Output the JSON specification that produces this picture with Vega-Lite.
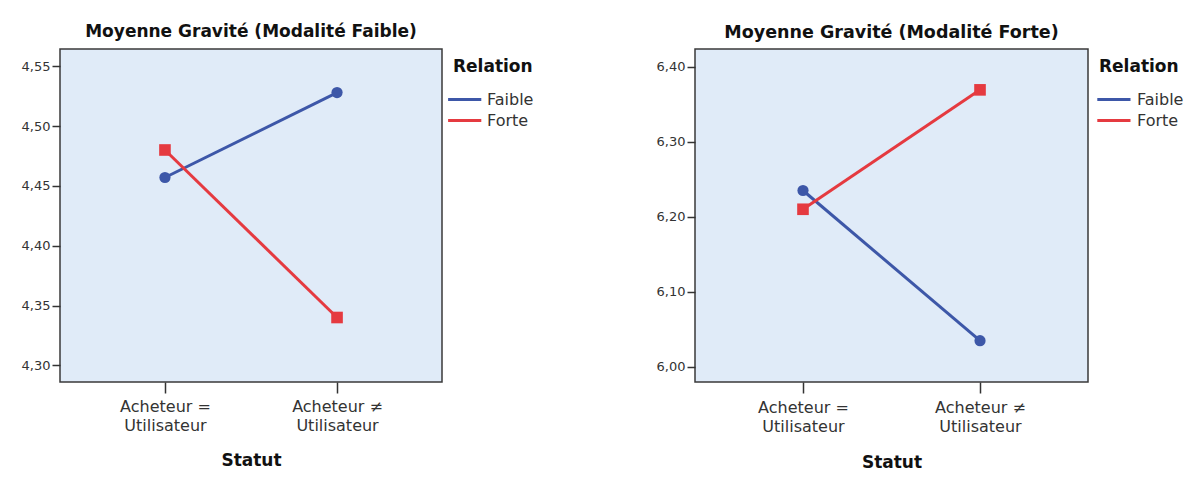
{
  "$schema": "https://vega.github.io/schema/vega-lite/v6.json",
  "background": "white",
  "padding": {"left": 20, "top": 22, "right": 5, "bottom": 5},
  "config": {
    "font": "DejaVu Sans",
    "view": {"fill": "#E0EBF8", "stroke": "#3a3a3a", "strokeWidth": 1.5},
    "axis": {"grid": false, "domain": false, "tickColor": "#333333", "tickWidth": 1.5, "labelColor": "#333333", "titleColor": "#111111"},
    "legend": {
      "titleFontSize": 17, "titleFontWeight": "bold", "titleColor": "#111111",
      "labelFontSize": 16, "labelColor": "#333333",
      "padding": 10, "offset": 1, "rowPadding": 3, "titlePadding": 14
    },
    "title": {"fontSize": 17, "fontWeight": "bold", "color": "#111111"},
    "concat": {"spacing": 110}
  },
  "datasets": {
    "faible": [
      {"Statut": "Acheteur = Utilisateur", "Relation": "Faible", "Moyenne": 4.457},
      {"Statut": "Acheteur ≠ Utilisateur", "Relation": "Faible", "Moyenne": 4.528},
      {"Statut": "Acheteur = Utilisateur", "Relation": "Forte", "Moyenne": 4.48},
      {"Statut": "Acheteur ≠ Utilisateur", "Relation": "Forte", "Moyenne": 4.34}
    ],
    "forte": [
      {"Statut": "Acheteur = Utilisateur", "Relation": "Faible", "Moyenne": 6.235},
      {"Statut": "Acheteur ≠ Utilisateur", "Relation": "Faible", "Moyenne": 6.035},
      {"Statut": "Acheteur = Utilisateur", "Relation": "Forte", "Moyenne": 6.21},
      {"Statut": "Acheteur ≠ Utilisateur", "Relation": "Forte", "Moyenne": 6.369}
    ]
  },
  "hconcat": [
    {
      "title": {"text": "Moyenne Gravité (Modalité Faible)", "offset": 8},
      "width": 382,
      "height": 333,
      "data": {"name": "faible"},
      "encoding": {
        "x": {
          "field": "Statut", "type": "nominal",
          "sort": ["Acheteur = Utilisateur", "Acheteur ≠ Utilisateur"],
          "scale": {"type": "point", "padding": 0.61},
          "axis": {
            "title": "Statut", "titleFontSize": 17, "titleFontWeight": "bold", "titlePadding": 19,
            "labelAngle": 0, "labelFontSize": 16, "labelLineHeight": 19, "labelPadding": 5, "tickSize": 11,
            "labelExpr": "datum.value == 'Acheteur = Utilisateur' ? ['Acheteur =', 'Utilisateur'] : ['Acheteur ≠', 'Utilisateur']"
          }
        },
        "y": {
          "field": "Moyenne", "type": "quantitative",
          "scale": {"domain": [4.2861, 4.5644], "nice": false, "zero": false},
          "axis": {
            "title": null, "values": [4.3, 4.35, 4.4, 4.45, 4.5, 4.55],
            "labelFontSize": 13, "tickSize": 8, "labelPadding": 2,
            "labelExpr": "replace(format(datum.value, '.2f'), '.', ',')"
          }
        },
        "color": {
          "field": "Relation", "type": "nominal",
          "scale": {"domain": ["Faible", "Forte"], "range": ["#3D57A8", "#E53A40"]},
          "legend": null
        }
      },
      "layer": [
        {
          "mark": {"type": "line", "strokeWidth": 3},
          "encoding": {
            "color": {
              "field": "Relation", "type": "nominal",
              "scale": {"domain": ["Faible", "Forte"], "range": ["#3D57A8", "#E53A40"]},
              "legend": {"title": "Relation", "symbolType": "M-1.8,0H2.35", "symbolSize": 256, "symbolStrokeWidth": 3, "labelOffset": 15}
            }
          }
        },
        {
          "transform": [{"filter": "datum.Relation == 'Faible'"}],
          "mark": {"type": "point", "shape": "circle", "filled": true, "opacity": 1, "size": 125}
        },
        {
          "transform": [{"filter": "datum.Relation == 'Forte'"}],
          "mark": {"type": "point", "shape": "square", "filled": true, "opacity": 1, "size": 135}
        }
      ]
    },
    {
      "title": {"text": "Moyenne Gravité (Modalité Forte)", "offset": 7.5, "fontSize": 17.5},
      "width": 393,
      "height": 333,
      "data": {"name": "forte"},
      "encoding": {
        "x": {
          "field": "Statut", "type": "nominal",
          "sort": ["Acheteur = Utilisateur", "Acheteur ≠ Utilisateur"],
          "scale": {"type": "point", "padding": 0.61},
          "axis": {
            "title": "Statut", "titleFontSize": 17, "titleFontWeight": "bold", "titlePadding": 20,
            "labelAngle": 0, "labelFontSize": 16, "labelLineHeight": 19, "labelPadding": 6, "tickSize": 11,
            "labelExpr": "datum.value == 'Acheteur = Utilisateur' ? ['Acheteur =', 'Utilisateur'] : ['Acheteur ≠', 'Utilisateur']"
          }
        },
        "y": {
          "field": "Moyenne", "type": "quantitative",
          "scale": {"domain": [5.98, 6.4234], "nice": false, "zero": false},
          "axis": {
            "title": null, "values": [6.0, 6.1, 6.2, 6.3, 6.4],
            "labelFontSize": 13, "tickSize": 8, "labelPadding": 2,
            "labelExpr": "replace(format(datum.value, '.2f'), '.', ',')"
          }
        },
        "color": {
          "field": "Relation", "type": "nominal",
          "scale": {"domain": ["Faible", "Forte"], "range": ["#3D57A8", "#E53A40"]},
          "legend": null
        }
      },
      "layer": [
        {
          "mark": {"type": "line", "strokeWidth": 3},
          "encoding": {
            "color": {
              "field": "Relation", "type": "nominal",
              "scale": {"domain": ["Faible", "Forte"], "range": ["#3D57A8", "#E53A40"]},
              "legend": {"title": "Relation", "symbolType": "M-1.4,0H2.75", "symbolSize": 256, "symbolStrokeWidth": 3, "labelOffset": 19}
            }
          }
        },
        {
          "transform": [{"filter": "datum.Relation == 'Faible'"}],
          "mark": {"type": "point", "shape": "circle", "filled": true, "opacity": 1, "size": 125}
        },
        {
          "transform": [{"filter": "datum.Relation == 'Forte'"}],
          "mark": {"type": "point", "shape": "square", "filled": true, "opacity": 1, "size": 135}
        }
      ]
    }
  ],
  "resolve": {
    "scale": {"y": "independent", "x": "independent", "color": "independent"},
    "legend": {"color": "independent"}
  }
}
